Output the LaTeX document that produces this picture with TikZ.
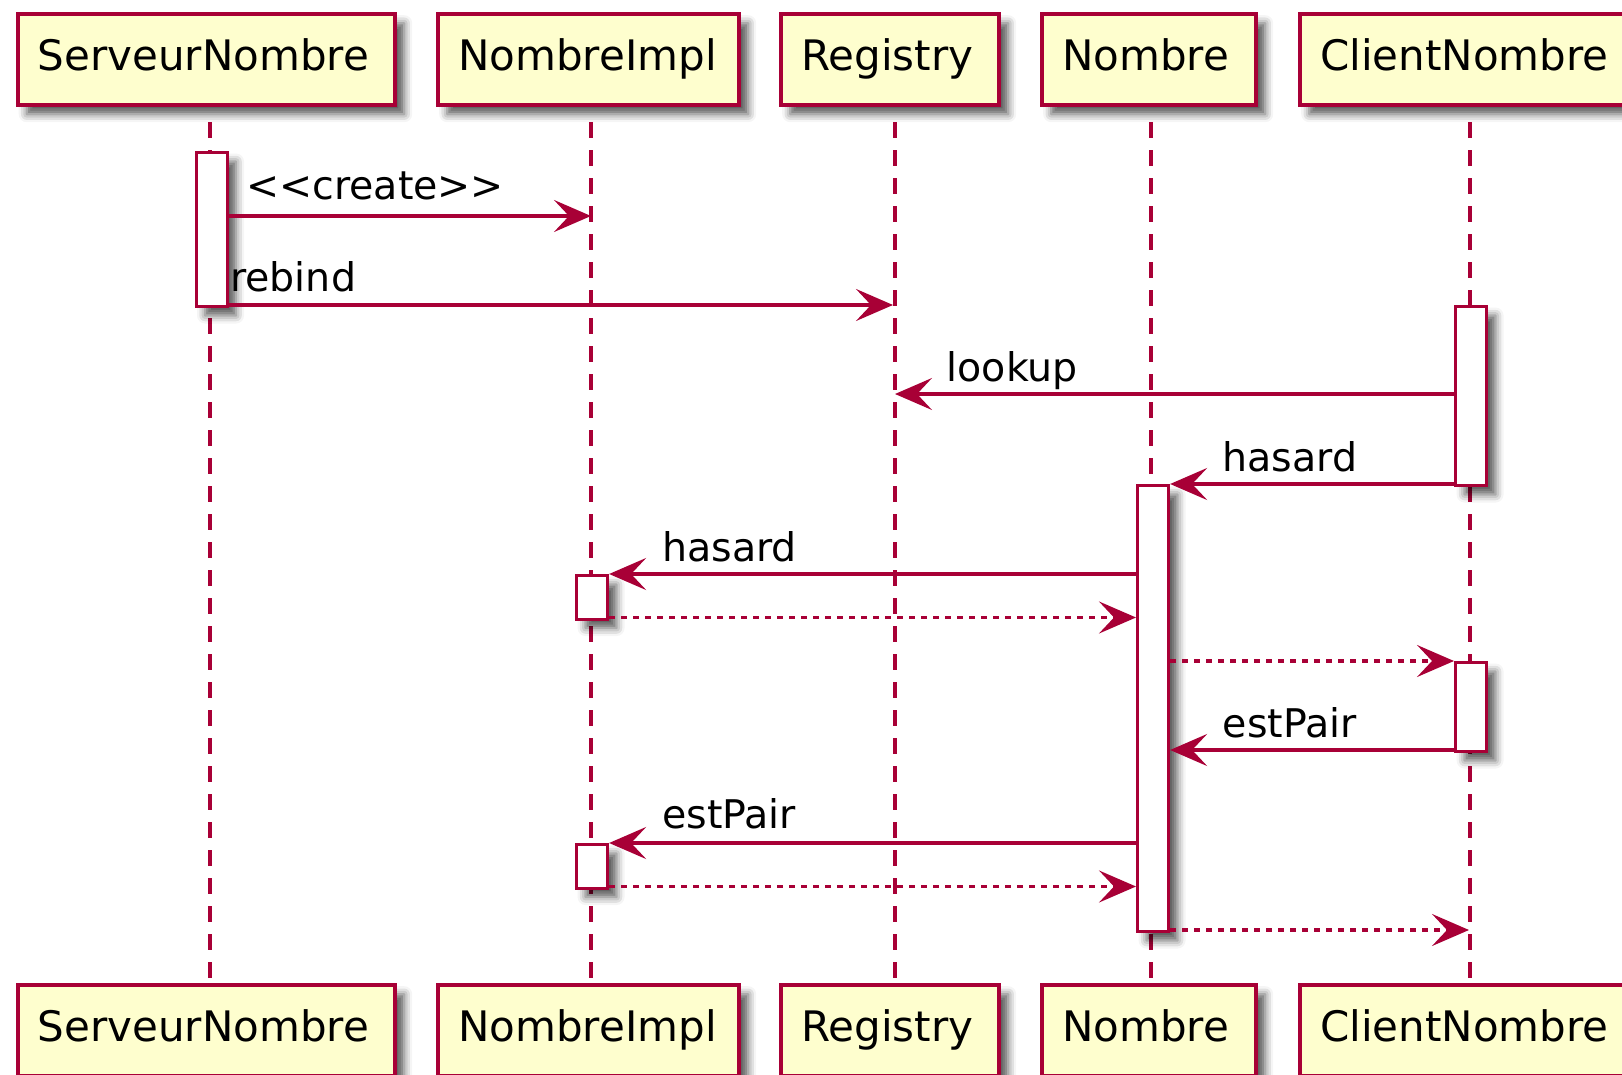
\documentclass[tikz,border=0pt]{standalone}
\usepackage{fontspec}
\setmainfont{DejaVu Sans}
\usetikzlibrary{arrows.meta,shadows.blur}
\definecolor{umlred}{HTML}{A80036}
\definecolor{umlfill}{HTML}{FEFECE}
\begin{document}
\begin{tikzpicture}[x=1pt,y=-1pt,
  softshadow/.style={blur shadow={shadow xshift=9pt, shadow yshift=-9pt,
      shadow blur radius=8pt, shadow opacity=65}},
  participant/.style={draw=umlred, fill=umlfill, line width=4.4pt,
      inner xsep=20pt, inner ysep=0pt, align=left,
      anchor=north west, minimum height=91pt, text height=22pt, text depth=0pt,
      font=\fontsize{42}{50}\selectfont, softshadow},
  lifeline/.style={draw=umlred, line width=3.05pt, dash pattern=on 16pt off 12pt},
  activation/.style={draw=umlred, fill=white, line width=3.1pt, inner sep=0pt,
      minimum width=31pt, anchor=north west, softshadow},
  msg/.style={draw=umlred, line width=3.1pt,
      -{Stealth[length=37pt,width=32pt,inset=15pt]}},
  reply/.style={msg, dash pattern=on 6pt off 6pt},
  lbl/.style={anchor=base west, inner sep=0pt, font=\fontsize{39.5}{47}\selectfont}
]
\clip (0,0) rectangle (1622,1075);
\path[use as bounding box] (0,0) rectangle (1622,1075);

% lifeline positions
\coordinate (lS) at (210,0);
\coordinate (lI) at (591,0);
\coordinate (lR) at (895,0);
\coordinate (lN) at (1151,0);
\coordinate (lC) at (1470,0);

% message levels
\coordinate (m1) at (0,216);
\coordinate (m2) at (0,305);
\coordinate (m3) at (0,394);
\coordinate (m4) at (0,484);
\coordinate (m5) at (0,574);
\coordinate (m6) at (0,617.5);
\coordinate (m7) at (0,661);
\coordinate (m8) at (0,750);
\coordinate (m9) at (0,843);
\coordinate (m10) at (0,886.5);
\coordinate (m11) at (0,930);

% participant heads (top) and feet (bottom)
\path
  (15.5,12)  node[participant, text width=337.5pt] (pS) {ServeurNombre}
  (436,12)   node[participant, text width=261pt]   (pI) {NombreImpl}
  (779,12)   node[participant, text width=178pt]   (pR) {Registry}
  (1040,12)  node[participant, text width=174pt]   (pN) {Nombre}
  (1298,12)  node[participant, text width=292pt]   (pC) {ClientNombre}
  (15.5,983) node[participant, text width=337.5pt] (qS) {ServeurNombre}
  (436,983)  node[participant, text width=261pt]   (qI) {NombreImpl}
  (779,983)  node[participant, text width=178pt]   (qR) {Registry}
  (1040,983) node[participant, text width=174pt]   (qN) {Nombre}
  (1298,983) node[participant, text width=292pt]   (qC) {ClientNombre};

% lifelines
\draw[lifeline] ([yshift=-15pt]lS |- pS.south) -- (lS |- qS.north);
\draw[lifeline] ([yshift=-15pt]lI |- pI.south) -- (lI |- qI.north);
\draw[lifeline] ([yshift=-15pt]lR |- pR.south) -- (lR |- qR.north);
\draw[lifeline] ([yshift=-15pt]lN |- pN.south) -- (lN |- qN.north);
\draw[lifeline] ([yshift=-15pt]lC |- pC.south) -- (lC |- qC.north);

% activation bars
\node[activation, minimum height=154pt]   (aS)  at (194.5,151) {};
\node[activation, minimum height=179pt]   (aC1) at (1454,305) {};
\node[activation, minimum height=446pt]   (aN)  at (1136,484) {};
\node[activation, minimum height=43.5pt]  (aI1) at (575,574) {};
\node[activation, minimum height=89pt]    (aC2) at (1454,661) {};
\node[activation, minimum height=43.5pt]  (aI2) at (575,843) {};

% messages
\draw[msg]   (aS.east |- m1)  -- (lI |- m1);
\draw[msg]   (aS.east |- m2)  -- ([xshift=-2pt]lR |- m2);
\draw[msg]   (aC1.west |- m3) -- (lR |- m3);
\draw[msg]   (aC1.west |- m4) -- (aN.east |- m4);
\draw[msg]   (aN.west |- m5)  -- (aI1.east |- m5);
\draw[reply] (aI1.east |- m6) -- (aN.west |- m6);
\draw[reply] (aN.east |- m7)  -- (aC2.west |- m7);
\draw[msg]   (aC2.west |- m8) -- (aN.east |- m8);
\draw[msg]   (aN.west |- m9)  -- (aI2.east |- m9);
\draw[reply] (aI2.east |- m10) -- (aN.west |- m10);
\draw[reply] (aN.east |- m11) -- ([xshift=-1pt]lC |- m11);

% message labels
\node[lbl] (t1) at (246,200)    {<{}<create>{}>};
\node[lbl] (t2) at (230,291)    {rebind};
\node[lbl] (t3) at (946.5,381)  {lookup};
\node[lbl] (t4) at (1222.5,471.5) {hasard};
\node[lbl] (t5) at (662,561.5)  {hasard};
\node[lbl] (t6) at (1222.5,737.5) {estPair};
\node[lbl] (t7) at (662,828)    {estPair};
\end{tikzpicture}
\end{document}
